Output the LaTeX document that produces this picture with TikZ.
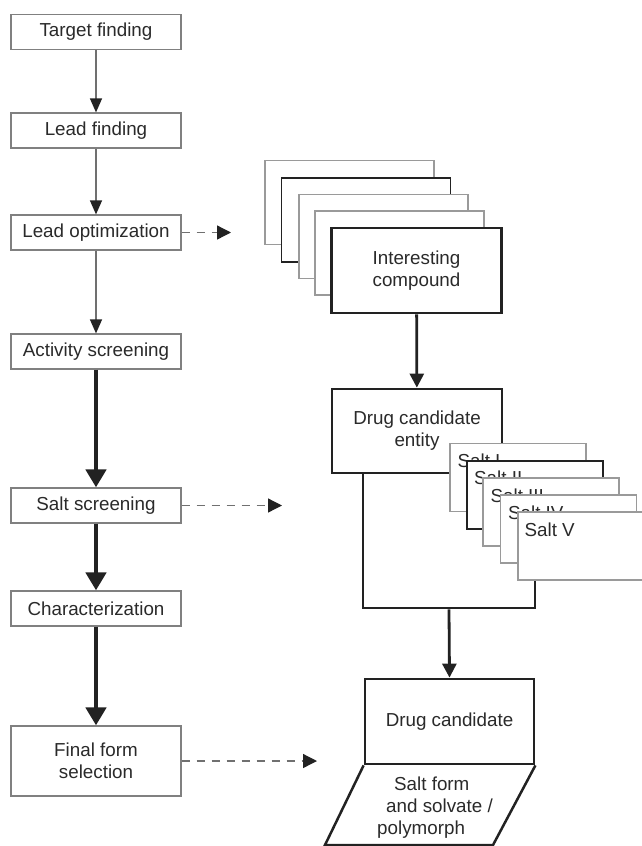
\documentclass[tikz,border=0pt]{standalone}
\usepackage{fontspec}
\setmainfont{Liberation Sans}
\usetikzlibrary{arrows.meta}
\definecolor{txt}{HTML}{2A2A2A}
\definecolor{boxgray}{HTML}{808080}
\definecolor{linegray}{HTML}{707070}
\definecolor{lightgray}{HTML}{9A9A9A}
\definecolor{dark}{HTML}{222222}
\begin{document}
\begin{tikzpicture}[x=1pt,y=-1pt,
  every node/.style={font=\fontsize{18.8}{22}\selectfont, text=txt},
  leftbox/.style={draw=boxgray, line width=1.2pt, fill=white, minimum width=170pt, minimum height=35pt, inner sep=2pt, align=center},
  thinarrow/.style={draw=linegray, line width=1.3pt, -{Triangle[length=14pt,width=12pt,color=dark,fill=dark]}},
  thickarrow/.style={draw=dark, line width=4.5pt, -{Triangle[length=18pt,width=20pt]}},
  midarrow/.style={draw=dark, line width=2.8pt, -{Triangle[length=14pt,width=14pt]}},
  dasharrow/.style={draw=linegray, line width=1.3pt, dash pattern=on 8pt off 7pt, -{Triangle[length=14pt,width=14pt,color=dark,fill=dark]}},
  stackbox/.style={draw=lightgray, line width=1.2pt, fill=white, minimum width=169pt, minimum height=84pt, inner sep=0pt},
  bigbox/.style={draw=dark, line width=2.8pt, fill=white, minimum width=170pt, minimum height=84pt, align=center, inner sep=0pt},
  saltbox/.style={draw=lightgray, line width=1.2pt, fill=white, minimum width=136pt, minimum height=68pt, inner sep=0pt},
  salttext/.style={anchor=north west, inner sep=0pt},
  paratext/.style={anchor=base west, inner sep=0pt}
]
\useasboundingbox (0,0) rectangle (642,846);
\clip (0,0) rectangle (642,846);

% left column
\node[leftbox] (tf) at (96,32) {Target finding};
\node[leftbox] (lf) at (96,130.5) {Lead finding};
\node[leftbox] (lo) at (96,232.5) {Lead optimization};
\node[leftbox] (as) at (96,351.5) {Activity screening};
\node[leftbox] (ss) at (96,505.5) {Salt screening};
\node[leftbox] (ch) at (96,608.5) {Characterization};
\node[leftbox, minimum height=70pt] (ff) at (96,761) {Final form\\selection};

\draw[thinarrow] (tf) -- (lf);
\draw[thinarrow] (lf) -- (lo);
\draw[thinarrow] (lo) -- (as);
\draw[thickarrow] (as) -- (ss);
\draw[thickarrow] (ss) -- (ch);
\draw[thickarrow] (ch) -- (ff);

\coordinate (loend) at (231,232.5);
\coordinate (ssend) at (282,505.5);
\coordinate (ffend) at (317,761);
\draw[dasharrow] (lo.east) -- (loend);
\draw[dasharrow] (ss.east) -- (ssend);
\draw[dasharrow] (ff.east) -- (ffend);

% compound stack
\node[stackbox] (c1) at (349.5,202.5) {};
\node[stackbox, draw=dark, line width=1.6pt] (c2) at (366,220) {};
\node[stackbox] (c3) at (383.5,236.5) {};
\node[stackbox] (c4) at (399.5,253) {};
\node[bigbox, minimum height=85pt] (ic) at (416.5,270.5) {Interesting\\compound};

% hub rectangle behind the salts
\node[draw=dark, line width=2.8pt, minimum width=172pt, minimum height=135pt, inner sep=0pt] (hub) at (449,540.5) {};
\node[bigbox] (dce) at (417,431) {Drug candidate\\entity};
\draw[midarrow] (ic) -- (dce);

% salt stack
\node[saltbox] (s1) at (518,477.5) {};
\node[salttext] at ([shift={(8,11)}]s1.north west) {Salt I};
\node[saltbox, draw=dark, line width=2pt] (s2) at (535,494.5) {};
\node[salttext] at ([shift={(8,11)}]s2.north west) {Salt II};
\node[saltbox] (s3) at (551,512) {};
\node[salttext] at ([shift={(8,11)}]s3.north west) {Salt III};
\node[saltbox] (s4) at (568.5,529) {};
\node[salttext] at ([shift={(8,11)}]s4.north west) {Salt IV};
\node[saltbox] (s5) at (586,546) {};
\node[salttext] at ([shift={(7,11)}]s5.north west) {Salt V};

% drug candidate
\node[bigbox, minimum width=169pt, minimum height=85pt] (dc) at (449.5,721.5) {Drug candidate};
\draw[midarrow] (hub.south) -- (dc.north);

\coordinate (pbl) at (325,845);
\coordinate (pbr) at (493,845);
\draw[draw=dark, line width=2.5pt, line join=miter] (dc.south west) -- (pbl) -- (pbr) -- (dc.south east);
\node[paratext] (p1) at (394,790) {Salt form};
\node[paratext] (p2) at (386,812) {and solvate /};
\node[paratext] (p3) at (377,834) {polymorph};
\end{tikzpicture}
\end{document}
